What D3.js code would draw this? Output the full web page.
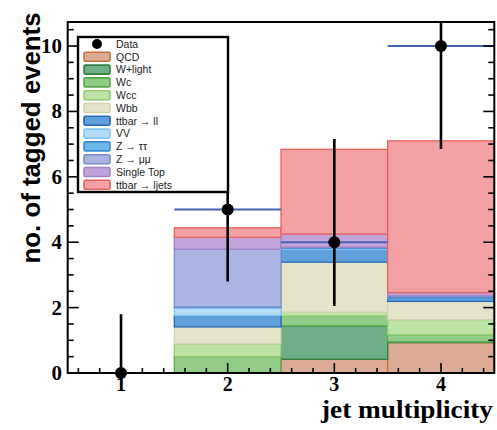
<!DOCTYPE html>
<html><head><meta charset="utf-8">
<script src="https://cdn.jsdelivr.net/npm/d3@7"></script>
<style>html,body{margin:0;padding:0;background:#fff;}svg{display:block;}</style>
</head><body>
<svg id="c" width="497" height="430"></svg>
<script>
// ---- data ----
const binCenters = [1, 2, 3, 4];
const xTickLabels = ["1", "2", "3", "4"];
const yTickLabels = [0, 2, 4, 6, 8, 10];
const qcd   = [0, 0.00, 0.42, 0.93];
const wlight= [0, 0.00, 1.02, 0.02];
const wc    = [0, 0.50, 0.30, 0.22];
const wcc   = [0, 0.39, 0.12, 0.46];
const wbb   = [0, 0.52, 1.53, 0.56];
const ttll  = [0, 0.35, 0.38, 0.08];
const vv    = [0, 0.24, 0.04, 0.02];
const ztt   = [0, 0.02, 0.02, 0.04];
const zmm   = [0, 1.77, 0.02, 0.03];
const stop  = [0, 0.36, 0.40, 0.10];
const ttlj  = [0, 0.29, 2.59, 4.64];
const dataVals = [0, 5, 4, 10];
const dataErrLow  = [0, 2.2, 1.95, 3.15];
const dataErrHigh = [1.8, 2.6, 3.16, 3.5];
const seriesNames = ["QCD", "W+light", "Wc", "Wcc", "Wbb", "ttbar \u2192 ll", "VV", "Z \u2192 \u03c4\u03c4", "Z \u2192 \u03bc\u03bc", "Single Top", "ttbar \u2192 ljets"];
const seriesValues = [qcd, wlight, wc, wcc, wbb, ttll, vv, ztt, zmm, stop, ttlj];
const fills   = ["#dcab93", "#6fae86", "#92cc88", "#bde3a6", "#e4e4c9", "#5f9fda", "#b5def6", "#6cb6ea", "#aab5e2", "#c2a4da", "#f4a1a3"];
const strokes = ["#c8703c", "#2f7d40", "#55a84a", "#90cc72", "#d2d2ae", "#2a66b8", "#86c6f0", "#3a8cd2", "#7d8cd0", "#a184c8", "#e8605e"];

// ---- layout ----
const svg = d3.select("#c");
const L = 67.7, R = 494.3, T = 22, B = 373;
const x = d3.scaleLinear().domain([0.5, 4.5]).range([L, R]);
const y = d3.scaleLinear().domain([0, 10.735]).range([B, T]);

svg.append("clipPath").attr("id", "clip").append("rect")
  .attr("x", L).attr("y", T).attr("width", R - L).attr("height", B - T);
const g = svg.append("g").attr("clip-path", "url(#clip)");

// stacked histogram
const stacked = d3.stack().keys(d3.range(seriesValues.length)).value((d, k) => seriesValues[k][d])(d3.range(binCenters.length));
stacked.forEach((layer, k) => {
  layer.forEach((seg, i) => {
    if (seg[1] - seg[0] <= 0) return;
    g.append("rect")
      .attr("x", x(binCenters[i] - 0.5)).attr("width", x(binCenters[i] + 0.5) - x(binCenters[i] - 0.5))
      .attr("y", y(seg[1])).attr("height", y(seg[0]) - y(seg[1]))
      .attr("fill", fills[k]).attr("stroke", strokes[k]).attr("stroke-width", 1.3);
  });
});

// data
binCenters.forEach((c, i) => {
  g.append("line").attr("x1", x(c - 0.5)).attr("x2", x(c + 0.5))
    .attr("y1", y(dataVals[i])).attr("y2", y(dataVals[i]))
    .attr("stroke", "#4462b4").attr("stroke-width", 2);
  g.append("line").attr("x1", x(c)).attr("x2", x(c))
    .attr("y1", y(dataVals[i] - dataErrLow[i])).attr("y2", y(dataVals[i] + dataErrHigh[i]))
    .attr("stroke", "#000").attr("stroke-width", 2.6);
});
binCenters.forEach((c, i) => {
  svg.append("circle").attr("cx", x(c)).attr("cy", y(dataVals[i])).attr("r", 6).attr("fill", "#000");
});

// frame
svg.append("rect").attr("x", L).attr("y", T).attr("width", R - L).attr("height", B - T)
  .attr("fill", "none").attr("stroke", "#000").attr("stroke-width", 2);

// ticks
const ax = svg.append("g").attr("stroke", "#000").attr("stroke-width", 1.6);
d3.range(0.6, 4.45, 0.2).forEach(v => {
  const major = Math.abs(v - Math.round(v)) < 1e-6;
  ax.append("line").attr("x1", x(v)).attr("x2", x(v)).attr("y1", B).attr("y2", B - (major ? 10 : 5));
});
d3.range(0, 10.75, 0.5).forEach(v => {
  const major = Math.abs(v / 2 - Math.round(v / 2)) < 1e-6;
  const len = major ? 11 : 6;
  ax.append("line").attr("x1", L).attr("x2", L + len).attr("y1", y(v)).attr("y2", y(v));
  ax.append("line").attr("x1", R).attr("x2", R - len).attr("y1", y(v)).attr("y2", y(v));
});

// tick labels
const serif = "'Liberation Serif','Times New Roman',serif";
binCenters.forEach((c, i) => {
  svg.append("text").attr("x", x(c)).attr("y", 391).attr("text-anchor", "middle")
    .attr("font-family", serif).attr("font-weight", "bold").attr("font-size", 20).text(xTickLabels[i]);
});
yTickLabels.forEach(v => {
  svg.append("text").attr("x", 62).attr("y", y(v) + 7).attr("text-anchor", "end")
    .attr("font-family", serif).attr("font-weight", "bold").attr("font-size", 21).text(v);
});

// axis titles
svg.append("text").attr("x", 493).attr("y", 418).attr("text-anchor", "end")
  .attr("font-family", serif).attr("font-weight", "bold").attr("font-size", 25)
  .attr("textLength", 172).attr("lengthAdjust", "spacingAndGlyphs").text("jet multiplicity");
svg.append("text").attr("transform", "translate(40,138) rotate(-90)").attr("text-anchor", "middle")
  .attr("font-family", "'Liberation Sans',Arial,sans-serif").attr("font-weight", "bold").attr("font-size", 25)
  .attr("textLength", 251).attr("lengthAdjust", "spacingAndGlyphs").text("no. of tagged events");

// legend
const lg = svg.append("g");
lg.append("rect").attr("x", 78).attr("y", 37).attr("width", 150).attr("height", 155)
  .attr("fill", "#fff").attr("stroke", "#000").attr("stroke-width", 2.4);
const rowY = i => 44 + i * 12.8;
lg.append("circle").attr("cx", 97).attr("cy", rowY(0)).attr("r", 5).attr("fill", "#000");
lg.append("text").attr("x", 116).attr("y", rowY(0) + 3.8).attr("font-family", "'Liberation Sans',Arial,sans-serif")
  .attr("font-size", 10.5).attr("fill", "#222").text("Data");
seriesNames.forEach((n, k) => {
  const yy = rowY(k + 1);
  lg.append("rect").attr("x", 84).attr("y", yy - 4.5).attr("width", 26).attr("height", 9).attr("rx", 1.5)
    .attr("fill", fills[k]).attr("stroke", strokes[k]).attr("stroke-width", 1.6);
  lg.append("text").attr("x", 116).attr("y", yy + 3.8).attr("font-family", "'Liberation Sans',Arial,sans-serif")
    .attr("font-size", 10.5).attr("fill", "#222").text(n);
});
</script>
</body></html>
